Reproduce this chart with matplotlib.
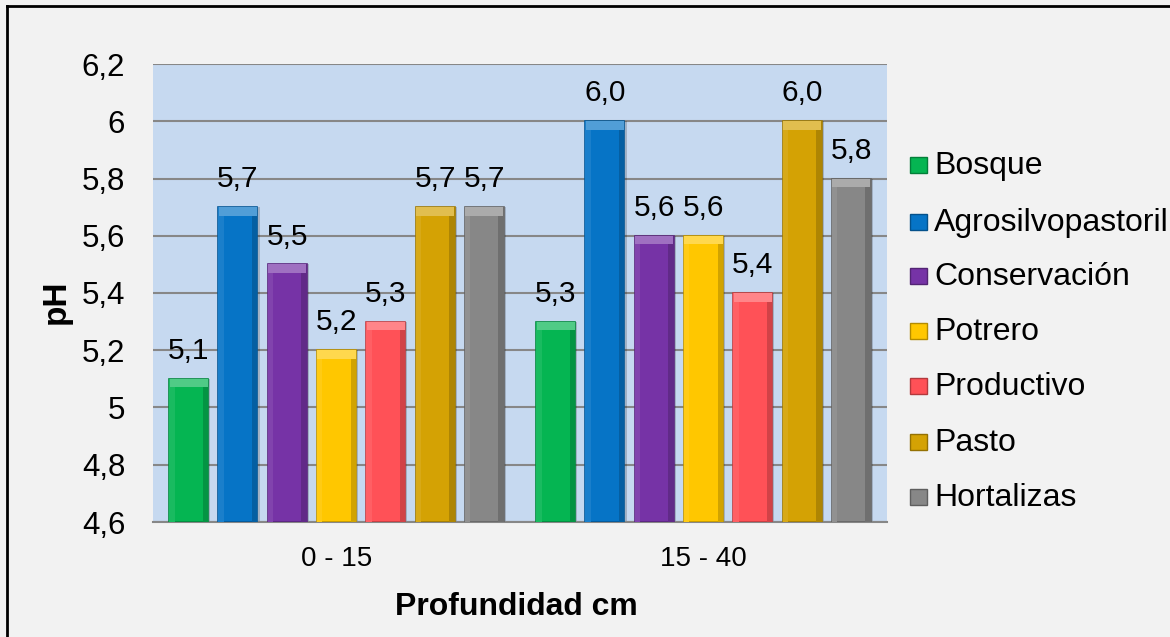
import matplotlib
matplotlib.use("Agg")
import matplotlib.pyplot as plt
import matplotlib.colors as mcolors
from matplotlib.patches import Rectangle
from matplotlib.lines import Line2D
import numpy as np

plt.rcParams['font.family'] = ['Liberation Sans', 'DejaVu Sans']

# ---- data ----
categories = ["0 - 15", "15 - 40"]
series_names = ["Bosque", "Agrosilvopastoril", "Conservación", "Potrero",
                "Productivo", "Pasto", "Hortalizas"]
bosque = [5.1, 5.3]
agrosilvopastoril = [5.7, 6.0]
conservacion = [5.5, 5.6]
potrero = [5.2, 5.6]
productivo = [5.3, 5.4]
pasto = [5.7, 6.0]
hortalizas = [5.7, 5.8]
series_values = [bosque, agrosilvopastoril, conservacion, potrero,
                 productivo, pasto, hortalizas]
colors = ["#05B552", "#0674C6", "#7633A6", "#FFC700", "#FF5157", "#D4A204", "#878787"]
y_ticks = [4.6, 4.8, 5.0, 5.2, 5.4, 5.6, 5.8, 6.0, 6.2]
YMIN, YMAX = 4.6, 6.2

W, H = 1170, 637
fig = plt.figure(figsize=(W / 100, H / 100), dpi=100)
fig.patch.set_facecolor("#F2F2F2")

ax = fig.add_axes([153 / W, 1 - 522 / H, (887 - 153) / W, (522 - 64) / H])
ax.set_facecolor("#C6D9F0")

n = len(series_names)
pitch = 0.1343
width = 0.106
x = np.arange(len(categories))

def shade(c, f):
    r, g, b = mcolors.to_rgb(c)
    if f >= 0:
        return (r + (1 - r) * f, g + (1 - g) * f, b + (1 - b) * f)
    return (r * (1 + f), g * (1 + f), b * (1 + f))

for i, (name, vals, col) in enumerate(zip(series_names, series_values, colors)):
    xs = x + (i - (n - 1) / 2) * pitch
    h = [v - YMIN for v in vals]
    # soft shadow
    ax.bar(xs + 0.006, h, width, bottom=YMIN, color="#000000", alpha=0.18,
           zorder=2, linewidth=0)
    # body
    ax.bar(xs, h, width, bottom=YMIN, color=col, edgecolor=shade(col, -0.25),
           linewidth=1.2, zorder=3)
    # side bevels
    ax.bar(xs - width * 0.43, h, width * 0.14, bottom=YMIN, color=shade(col, 0.08),
           linewidth=0, zorder=3.5)
    ax.bar(xs + width * 0.43, h, width * 0.14, bottom=YMIN, color=shade(col, -0.18),
           linewidth=0, zorder=3.5)
    # top bevel
    top_h = 0.03
    ax.bar(xs, [top_h] * len(vals), width * 0.98, bottom=[v - top_h for v in vals],
           color=shade(col, 0.3), linewidth=0, zorder=4)
    for xi, v in zip(xs, vals):
        ax.annotate(f"{v:.1f}".replace(".", ","), (xi, v), xytext=(0, 20),
                    textcoords="offset points", ha="center", va="center",
                    fontsize=21.5, color="black", zorder=6)

ax.set_ylim(YMIN, YMAX)
ax.set_xlim(-0.5, len(categories) - 0.5)
ax.set_yticks(y_ticks)
ax.set_yticklabels([f"{t:g}".replace(".", ",") for t in y_ticks], fontsize=22.5)
ax.set_xticks(x)
ax.set_xticklabels(categories, fontsize=20)
ax.tick_params(axis="y", length=0, pad=20)
ax.tick_params(axis="x", length=0, pad=17)
ax.yaxis.grid(True, color="#878787", linewidth=1.5, zorder=1)
ax.set_axisbelow(True)
for s in ["left", "right", "top"]:
    ax.spines[s].set_visible(False)
ax.spines["bottom"].set_color("#878787")
ax.spines["bottom"].set_linewidth(1.5)

fig.text(516 / W, 1 - 607 / H, "Profundidad cm", ha="center", va="center",
         fontsize=23, fontweight="bold")
fig.text(56 / W, 1 - 302 / H, "pH", ha="center", va="center", rotation=90,
         fontsize=24, fontweight="bold")

# legend
row_y = [165, 222, 276, 331, 386, 442, 497]
for name, col, yy in zip(series_names, colors, row_y):
    fig.patches.append(Rectangle((910 / W, 1 - (yy + 8) / H), 17 / W, 16 / H,
                                 transform=fig.transFigure, facecolor=col,
                                 edgecolor=shade(col, -0.3), linewidth=1))
    fig.text(934 / W, 1 - (yy + 1) / H, name, ha="left", va="center", fontsize=23)

# frame (left & top)
fig.add_artist(Line2D([7 / W, 7 / W], [0, 1 - 6 / H], transform=fig.transFigure,
                      color="black", linewidth=2))
fig.add_artist(Line2D([7 / W, 1], [1 - 6 / H, 1 - 6 / H], transform=fig.transFigure,
                      color="black", linewidth=2))

fig.savefig("out.png", dpi=100, facecolor=fig.get_facecolor())
